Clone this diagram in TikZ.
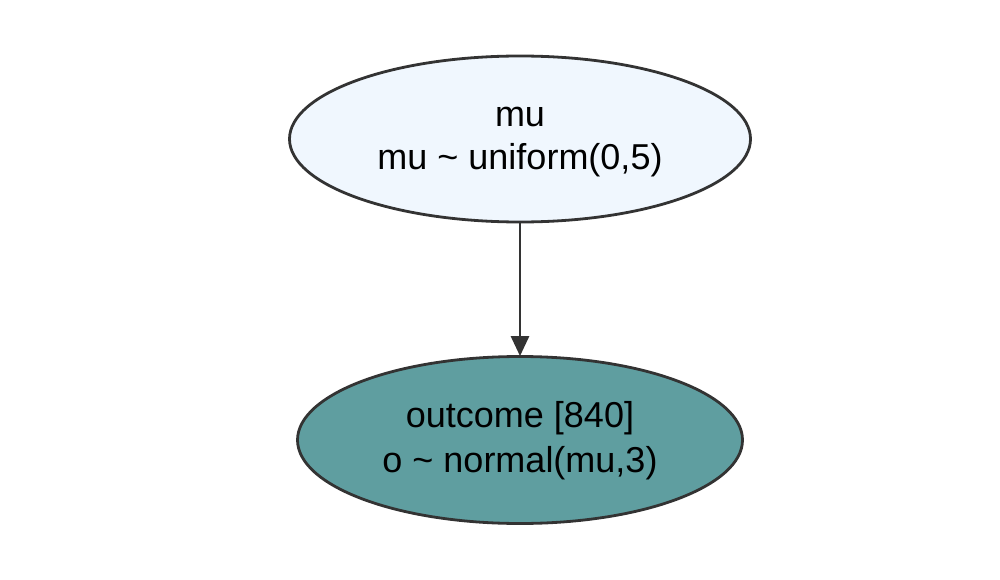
\documentclass[tikz,border=0pt]{standalone}
\usepackage{fontspec}
\setmainfont{Liberation Sans}
\usetikzlibrary{shapes.geometric,arrows.meta}
\definecolor{strokegray}{HTML}{333333}
\definecolor{paleblue}{HTML}{F0F7FE}
\definecolor{cadet}{HTML}{5F9EA0}
\tikzset{
  varnode/.style={ellipse, draw=strokegray, line width=2.8pt, inner sep=0pt,
    align=center, text=black},
  edgearrow/.style={draw=strokegray, line width=2.8pt,
    -{Triangle[length=20pt,width=18pt]}, shorten >=-1pt},
}
\newcommand{\toprule}{\rule{0pt}{29pt}}
\newcommand{\botrule}{\rule[-10pt]{0pt}{10pt}}
\begin{document}
\begin{tikzpicture}[x=1pt,y=1pt]
\useasboundingbox (0,0) rectangle (1000,-580);
\node[varnode, fill=paleblue, minimum width=461pt, minimum height=166pt,
  font=\fontsize{36pt}{43pt}\selectfont] (mu) at (520,-139)
  {\toprule mu\\ mu \char`\~{} uniform(0,5)\botrule};
\node[varnode, fill=cadet, minimum width=445pt, minimum height=167pt,
  font=\fontsize{36pt}{45pt}\selectfont] (outcome) at (520,-440)
  {\toprule outcome [840]\\ o \char`\~{} normal(mu,3)\botrule};
\draw[edgearrow] (mu.south) -- (outcome.north);
\end{tikzpicture}
\end{document}
